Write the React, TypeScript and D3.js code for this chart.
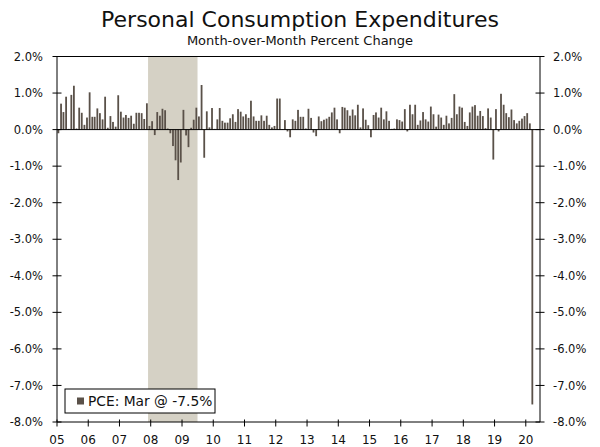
import * as d3 from "d3"
import * as React from "react"

// month-over-month % change, Jan 2005 .. Mar 2020
const pce2005 = [-0.1, 0.71, 0.48, 0.9, 0.02, 0.95, 1.2, 0.03, 0.6, 0.46, 0.13, 0.33]
const pce2006 = [1.02, 0.35, 0.35, 0.58, 0.45, 0.28, 0.9, 0.05, 0.37, 0.21, 0.08, 0.94]
const pce2007 = [0.49, 0.33, 0.4, 0.32, 0.38, 0.16, 0.46, 0.46, 0.45, 0.29, 0.72, 0.1]
const pce2008 = [0.23, -0.15, 0.48, 0.38, 0.57, 0.53, 0.03, -0.1, -0.45, -0.84, -1.38, -0.9]
const pce2009 = [0.54, -0.16, -0.48, 0.05, 0.27, 0.6, 0.36, 1.22, -0.77, 0.5, 0.06, 0.59]
const pce2010 = [0.02, 0.28, 0.59, 0.24, 0.19, 0.19, 0.31, 0.42, 0.21, 0.56, 0.49, 0.36]
const pce2011 = [0.42, 0.32, 0.79, 0.36, 0.24, 0.24, 0.39, 0.24, 0.38, 0.13, 0.06, 0.1]
const pce2012 = [0.85, 0.85, 0.01, 0.26, -0.05, -0.21, 0.28, 0.24, 0.54, 0.35, 0.35, 0.03]
const pce2013 = [0.57, 0.32, -0.08, -0.18, 0.36, 0.23, 0.27, 0.3, 0.35, 0.47, 0.6, 0.28]
const pce2014 = [-0.1, 0.62, 0.6, 0.53, 0.38, 0.55, 0.39, 0.68, 0.06, 0.58, 0.27, 0.12]
const pce2015 = [-0.21, 0.4, 0.47, 0.33, 0.6, 0.28, 0.5, 0.24, 0.02, 0.03, 0.28, 0.26]
const pce2016 = [0.22, 0.56, -0.05, 0.68, 0.42, 0.68, 0.13, 0.25, 0.48, 0.28, 0.22, 0.63]
const pce2017 = [0.42, 0.08, 0.41, 0.33, 0.13, 0.38, 0.17, 0.32, 0.97, 0.42, 0.63, 0.6]
const pce2018 = [0.21, 0.1, 0.47, 0.63, 0.67, 0.38, 0.51, 0.37, 0.04, 0.58, 0.33, -0.82]
const pce2019 = [0.56, -0.05, 0.98, 0.68, 0.45, 0.34, 0.55, 0.26, 0.17, 0.24, 0.3, 0.37]
const pce2020 = [0.45, 0.17, -7.52]

const yearLabels = ["05", "06", "07", "08", "09", "10", "11", "12", "13", "14", "15", "16", "17", "18", "19", "20"]
const yTicks = [2, 1, 0, -1, -2, -3, -4, -5, -6, -7, -8]
const recession = [new Date(2007, 11, 1), new Date(2009, 6, 1)]

const values = [].concat(pce2005, pce2006, pce2007, pce2008, pce2009, pce2010, pce2011,
  pce2012, pce2013, pce2014, pce2015, pce2016, pce2017, pce2018, pce2019, pce2020)
const bars = values.map((v, i) => ({ date: new Date(2005, i, 1), value: v }))

const font = "'DejaVu Sans', Verdana, sans-serif"
const barColor = "#5a5149"

export default function App() {
  const width = 600
  const height = 447
  const left = 57
  const right = 540
  const top = 56.5
  const bottom = 422

  const x = d3.scaleTime()
    .domain([new Date(2005, 0, 1), new Date(2020, 5, 15)])
    .range([left, right])
  const y = d3.scaleLinear().domain([-8, 2]).range([bottom, top])
  const fmt = d => d3.format(".1f")(d).replace("−", "-") + "%"

  return (
    <svg width={width} height={height} style={{ position: "absolute", left: 0, top: 0 }}
      fontFamily={font}>
      <rect width={width} height={height} fill="#fff" />
      <text x={300} y={27} textAnchor="middle" fontSize={22} fill="#111">Personal Consumption Expenditures</text>
      <text x={300} y={45} textAnchor="middle" fontSize={13} fill="#111">Month-over-Month Percent Change</text>

      <rect x={x(recession[0])} y={top} width={x(recession[1]) - x(recession[0])} height={bottom - top} fill="#d5d1c5" />

      {bars.map((d, i) => {
        const x0 = x(d.date) + 0.5
        const y0 = y(Math.max(0, d.value))
        const h = Math.abs(y(d.value) - y(0))
        return <rect key={i} x={x0} y={y0} width={1.8} height={Math.max(h, 0.4)} fill={barColor} />
      })}

      <line x1={left} x2={right} y1={y(0)} y2={y(0)} stroke="#000" strokeWidth={1} />
      <line x1={left} x2={right} y1={top} y2={top} stroke="#000" strokeWidth={1} />
      <line x1={left} x2={right} y1={bottom} y2={bottom} stroke="#000" strokeWidth={1} />
      <line x1={left} x2={left} y1={top} y2={bottom} stroke="#000" strokeWidth={1} />
      <line x1={right} x2={right} y1={top} y2={bottom} stroke="#000" strokeWidth={1} />

      {yTicks.map(t => (
        <g key={t}>
          <line x1={left - 4.5} x2={left + 4.5} y1={y(t)} y2={y(t)} stroke="#000" />
          <line x1={right - 4.5} x2={right + 4.5} y1={y(t)} y2={y(t)} stroke="#000" />
          <text x={43} y={y(t)} dy="0.36em" textAnchor="end" fontSize={11.5} fill="#111">{fmt(t)}</text>
          <text x={553} y={y(t)} dy="0.36em" textAnchor="start" fontSize={11.5} fill="#111">{fmt(t)}</text>
        </g>
      ))}

      {yearLabels.map((lab, i) => {
        const xx = x(new Date(2005 + i, 0, 1))
        return (
          <g key={lab}>
            <line x1={xx} x2={xx} y1={bottom - 2.5} y2={bottom + 4.5} stroke="#000" />
            <text x={xx} y={444} textAnchor="middle" fontSize={12} fill="#111">{lab}</text>
          </g>
        )
      })}

      <g transform="translate(65,389)">
        <rect x={0} y={0} width={150} height={24} fill="#fff" stroke="#000" strokeWidth={1} />
        <rect x={12} y={8.5} width={7} height={7} fill={barColor} />
        <text x={23} y={17} fontSize={13.8} fill="#111">PCE: Mar @ -7.5%</text>
      </g>
    </svg>
  )
}
